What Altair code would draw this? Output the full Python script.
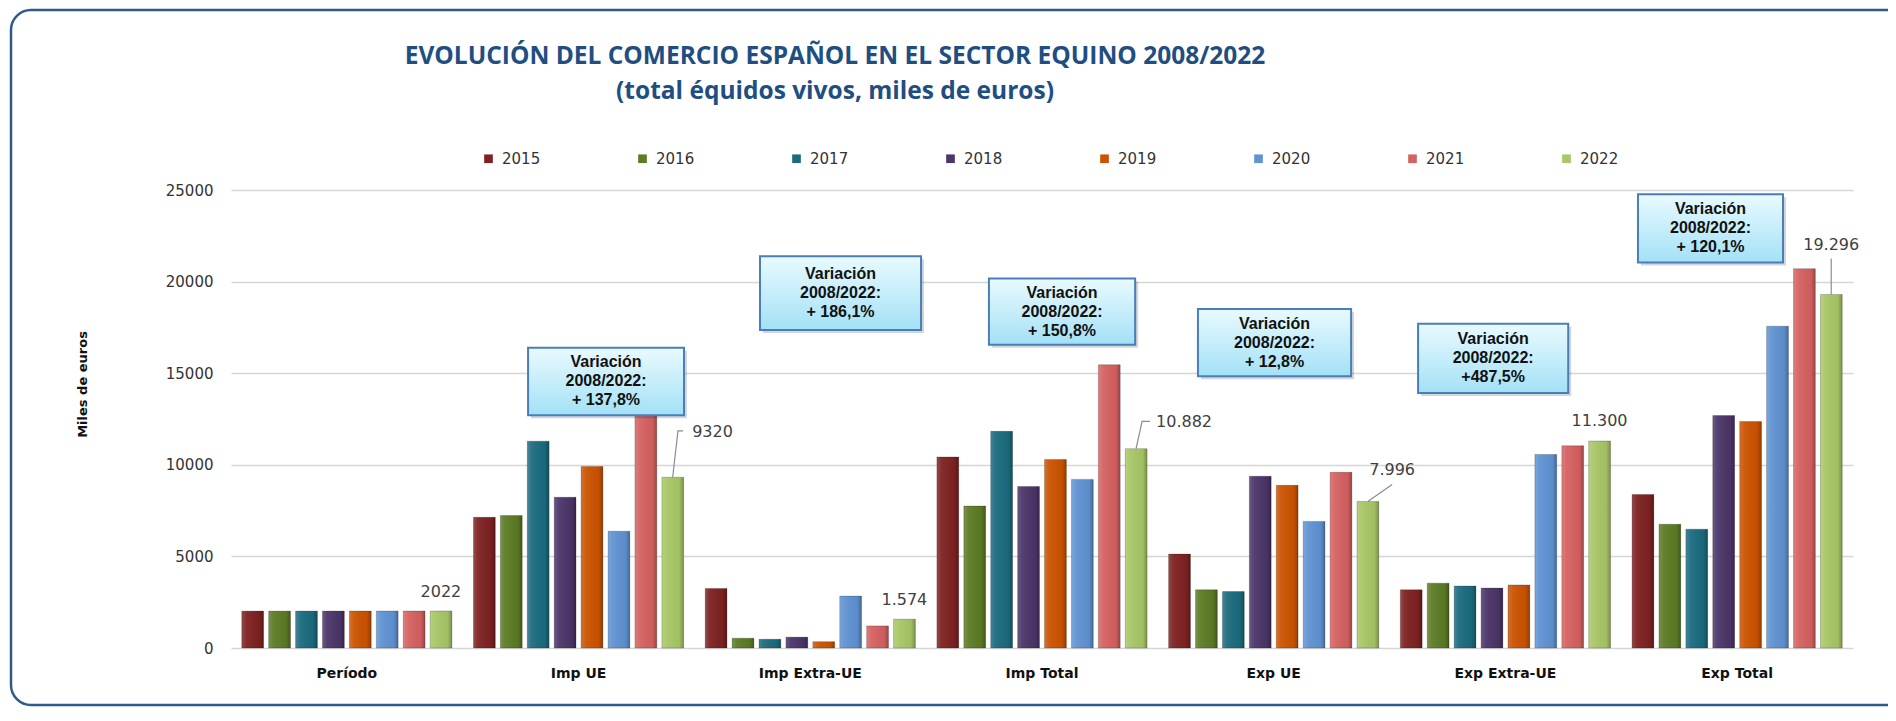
import altair as alt
import pandas as pd

# ---------------- data ----------------
categories = ["Período", "Imp UE", "Imp Extra-UE", "Imp Total", "Exp UE", "Exp Extra-UE", "Exp Total"]
years = ["2015", "2016", "2017", "2018", "2019", "2020", "2021", "2022"]

v2015 = [2015, 7137, 3253, 10429, 5128, 3176, 8381]
v2016 = [2016, 7233, 536, 7750, 3176, 3540, 6755]
v2017 = [2017, 11290, 478, 11825, 3081, 3387, 6487]
v2018 = [2018, 8228, 593, 8821, 9376, 3272, 12687]
v2019 = [2019, 9912, 344, 10295, 8879, 3444, 12361]
v2020 = [2020, 6372, 2832, 9204, 6908, 10563, 17566]
v2021 = [2021, 14256, 1205, 15461, 9587, 11041, 20704]
v2022 = [2022, 9320, 1574, 10882, 7996, 11300, 19296]

colors = ["#7E2121", "#5C7B24", "#1B6B7F", "#4B3569", "#CC5300", "#5F93D3", "#D66161", "#A8C766"]

# labels of the 2022 series (x in category units, y in data units)
label_text = ["2022", "9320", "1.574", "10.882", "7.996", "11.300", "19.296"]
label_x = [0.906, 2.078, 2.906, 4.113, 5.011, 5.906, 6.906]
label_y = [3061, 11780, 2624, 12330, 9723, 12370, 22012]

# leader lines
leader_id = ["a", "a", "a", "b", "b", "b", "c", "c", "d", "d"]
leader_ord = [0, 1, 2, 0, 1, 2, 0, 1, 0, 1]
leader_x = [1.906, 1.929, 1.951, 3.906, 3.932, 3.966, 4.906, 5.011, 6.906, 6.906]
leader_y = [9320, 11848, 11848, 10882, 12368, 12368, 7996, 8925, 19296, 21266]

# callout boxes
box_text = ["Variación\n2008/2022:\n+ 137,8%", "Variación\n2008/2022:\n+ 186,1%",
            "Variación\n2008/2022:\n+ 150,8%", "Variación\n2008/2022:\n+ 12,8%",
            "Variación\n2008/2022:\n+487,5%", "Variación\n2008/2022:\n+ 120,1%"]
box_x1 = [1.282, 2.283, 3.271, 4.173, 5.123, 6.072]
box_x2 = [1.955, 2.978, 3.902, 4.834, 5.771, 6.698]
box_y1 = [16385, 21382, 20176, 18510, 17706, 24770]
box_y2 = [12710, 17362, 16557, 14835, 13915, 21037]

title_lines = ["EVOLUCIÓN DEL COMERCIO ESPAÑOL EN EL SECTOR EQUINO 2008/2022",
               "(total équidos vivos, miles de euros)"]

# ---------------- tables ----------------
all_vals = [v2015, v2016, v2017, v2018, v2019, v2020, v2021, v2022]
rows = []
for yr, vals in zip(years, all_vals):
    for c, v in zip(categories, vals):
        rows.append({"Categoria": c, "Año": yr, "Valor": v})
df = pd.DataFrame(rows)

labels_df = pd.DataFrame({"t": label_text, "xq": label_x, "yv": label_y})
leader_df = pd.DataFrame({"id": leader_id, "o": leader_ord, "xq": leader_x, "yv": leader_y})
boxes_df = pd.DataFrame({"t": box_text, "x1": box_x1, "x2": box_x2, "y1": box_y1, "y2": box_y2})
boxes_df["xc"] = (boxes_df["x1"] + boxes_df["x2"]) / 2
boxes_df["yc"] = (boxes_df["y1"] + boxes_df["y2"]) / 2
# shadow offsets (~3 px)
boxes_df["sx1"] = boxes_df["x1"] + 0.013
boxes_df["sx2"] = boxes_df["x2"] + 0.013
boxes_df["sy1"] = boxes_df["y1"] - 165
boxes_df["sy2"] = boxes_df["y2"] - 165

one = pd.DataFrame({"k": [0]})

W, H = 1622, 458
yscale = alt.Scale(domain=[0, 25000], nice=False)
xq_scale = alt.Scale(domain=[0, 7], nice=False, zero=False)

xcat = alt.X("Categoria:N", sort=categories,
             scale=alt.Scale(paddingInner=0, paddingOuter=0),
             axis=alt.Axis(title=None, labelAngle=0, ticks=False, domain=False,
                           labelFont="DejaVu Sans", labelFontWeight="bold",
                           labelFontSize=14, labelColor="#111111", labelPadding=18))
xoff = alt.XOffset("Año:N", sort=years, scale=alt.Scale(paddingInner=0.19, paddingOuter=0.4))
yenc = alt.Y("Valor:Q", scale=yscale,
             axis=alt.Axis(values=[0, 5000, 10000, 15000, 20000, 25000], format="d",
                           title="Miles de euros", titleFont="DejaVu Sans", titleFontSize=13,
                           titleFontWeight="bold", titleColor="#111111", titleAngle=-90,
                           titleX=-149, titleY=194, titleAlign="center", titleBaseline="middle",
                           labelFont="DejaVu Sans", labelFontSize=15, labelColor="#333333",
                           labelPadding=18, ticks=False, domain=False,
                           grid=True, gridColor="#D6D6D6", gridWidth=1.6))

bars = alt.Chart(df).mark_bar().encode(
    x=xcat,
    xOffset=xoff,
    y=yenc,
    color=alt.Color("Año:N", sort=years, scale=alt.Scale(domain=years, range=colors),
                    legend=alt.Legend(title=None, orient="none", legendX=250, legendY=-39,
                                      direction="horizontal", columns=8, columnPadding=94,
                                      symbolType="square", symbolSize=75, symbolStrokeWidth=0,
                                      labelFont="DejaVu Sans", labelFontSize=15,
                                      labelColor="#333333", labelOffset=6)),
)

shade = alt.Chart(df).mark_bar(
    color={"gradient": "linear", "x1": 0, "y1": 0, "x2": 1, "y2": 0,
           "stops": [{"offset": 0, "color": "rgba(255,255,255,0.18)"},
                     {"offset": 0.2, "color": "rgba(255,255,255,0.06)"},
                     {"offset": 0.8, "color": "rgba(0,0,0,0.04)"},
                     {"offset": 1, "color": "rgba(0,0,0,0.28)"}]},
    stroke="rgba(0,0,0,0.25)", strokeWidth=0.8,
).encode(
    x=xcat,
    xOffset=xoff,
    y=yenc,
)

bar_layer = alt.layer(bars, shade)

frame = alt.Chart(one).mark_rect(
    fill="white", fillOpacity=0, stroke="#2E5A8C", strokeWidth=2.5, cornerRadius=20
).encode(x=alt.value(-220), x2=alt.value(1700), y=alt.value(-180), y2=alt.value(515))

title = alt.Chart(one).mark_text(
    text=title_lines, font="Open Sans", fontSize=24.5, fontWeight="bold", color="#1F4E82",
    align="center", baseline="middle", lineHeight=35
).encode(x=alt.value(604), y=alt.value(-133))

shadow = alt.Chart(boxes_df).mark_rect(color="rgba(0,0,0,0.16)").encode(
    x=alt.X("sx1:Q", scale=xq_scale, axis=None), x2="sx2:Q",
    y=alt.Y("sy1:Q", scale=yscale), y2="sy2:Q")

boxes = alt.Chart(boxes_df).mark_rect(
    color={"gradient": "linear", "x1": 0, "y1": 0, "x2": 0, "y2": 1,
           "stops": [{"offset": 0, "color": "#E9FAFF"}, {"offset": 1, "color": "#A3E1F6"}]},
    stroke="#4A7EBB", strokeWidth=2,
).encode(
    x=alt.X("x1:Q", scale=xq_scale, axis=None), x2="x2:Q",
    y=alt.Y("y1:Q", scale=yscale), y2="y2:Q")

box_txt = alt.Chart(boxes_df).mark_text(
    font="Liberation Sans", fontSize=16, fontWeight="bold", color="#111111",
    align="center", baseline="middle", lineBreak="\n", lineHeight=19, dy=-19
).encode(x=alt.X("xc:Q", scale=xq_scale, axis=None), y=alt.Y("yc:Q", scale=yscale), text="t:N")

leaders = alt.Chart(leader_df).mark_line(color="#8C8C8C", strokeWidth=1.2).encode(
    x=alt.X("xq:Q", scale=xq_scale, axis=None), y=alt.Y("yv:Q", scale=yscale),
    detail="id:N", order="o:Q")

labels = alt.Chart(labels_df).mark_text(
    font="DejaVu Sans", fontSize=16, color="#404040", align="center", baseline="middle"
).encode(x=alt.X("xq:Q", scale=xq_scale, axis=None), y=alt.Y("yv:Q", scale=yscale), text="t:N")

chart = alt.layer(frame, title, bar_layer, leaders, labels, shadow, boxes, box_txt).resolve_scale(
    x="independent"
).properties(
    width=W, height=H,
    padding={"left": 223, "top": 182, "right": 35, "bottom": 60},
    autosize=alt.AutoSizeParams(type="none"),
).configure_view(stroke=None)

chart.save("out.html", embed_options={"renderer": "svg", "actions": False})
